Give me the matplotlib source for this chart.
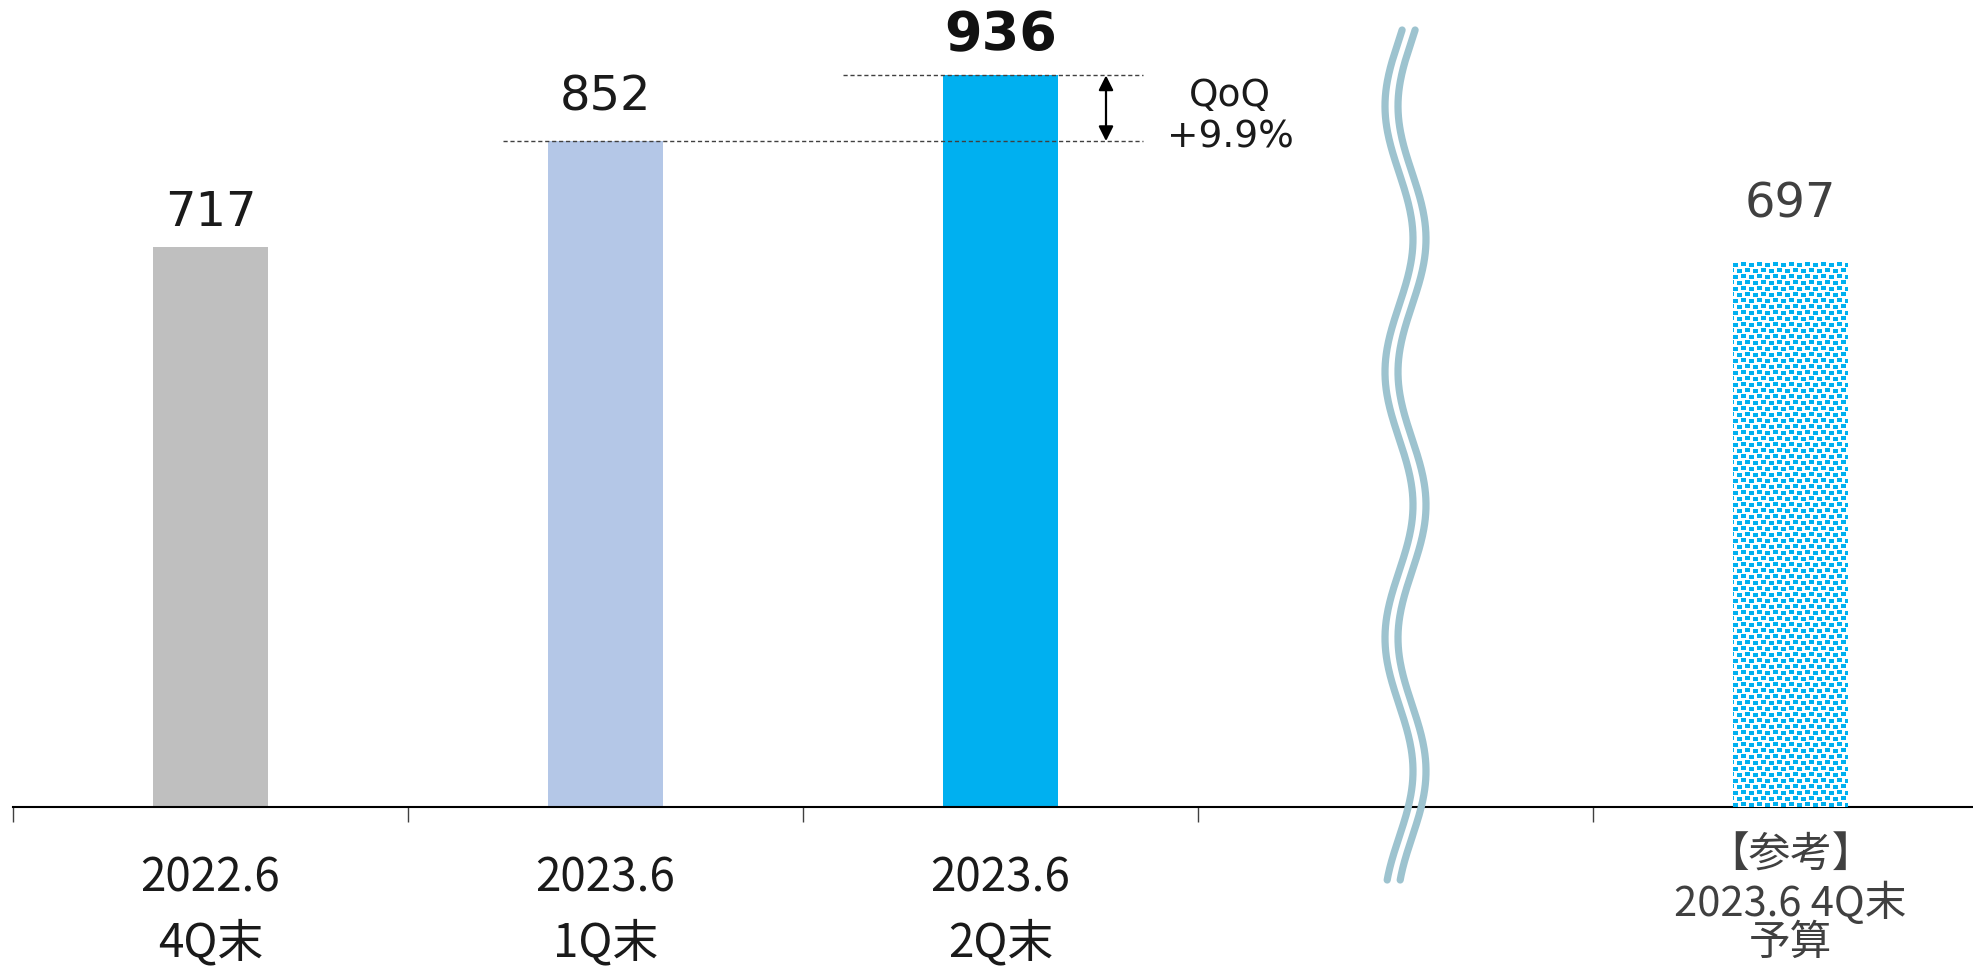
import numpy as np
import matplotlib
matplotlib.use("Agg")
import matplotlib.pyplot as plt
from matplotlib.patches import Rectangle

# ---- data ----
categories = ["2022.6\n4Q末", "2023.6\n1Q末", "2023.6\n2Q末", "", "【参考】\n2023.6 4Q末\n予算"]
values = [717, 852, 936, None, 697]
value_labels = ["717", "852", "936", "", "697"]
qoq_label = "QoQ\n+9.9%"

# ---- styles ----
bar_colors = ["#bfbfbf", "#b4c7e7", "#00b0f0", None, "pattern"]
label_colors = ["#1a1a1a", "#1a1a1a", "#111111", None, "#404040"]
label_offsets_pt = [14.8, 22.0, 18.0, None, 32.0]  # baseline above bar top
W, H = 1973, 969
DPI = 100
fig = plt.figure(figsize=(W / DPI, H / DPI), dpi=DPI)

left_px, base_px = 13, 807
ax = fig.add_axes([left_px / W, (H - base_px) / H, (W - left_px) / W, base_px / H])
px_per_unit = 0.7816
ax.set_ylim(0, base_px / px_per_unit)
step = 395
ax.set_xlim(-0.5, -0.5 + (W - left_px) / step)
for s in ["top", "right", "left"]:
    ax.spines[s].set_visible(False)
ax.spines["bottom"].set_linewidth(1.5)
ax.spines["bottom"].set_color("black")
ax.set_yticks([])
ax.set_xticks(np.arange(len(categories)) - 0.5)
ax.set_xticklabels([])
ax.tick_params(axis="x", direction="out", length=10.8, width=1.0, color="#404040")

bw = 115 / step
cjk = ["Noto Sans CJK JP", "DejaVu Sans"]

for i, v in enumerate(values):
    if v is None:
        continue
    if bar_colors[i] == "pattern":
        rect = Rectangle((i - bw / 2, 0), bw, v, facecolor="white", edgecolor="none", zorder=2)
        ax.add_patch(rect)
        hpx = int(round(v * px_per_unit))
        wpx = 115
        img = np.ones((hpx, wpx, 4))
        blue = np.array([0 / 255, 176 / 255, 240 / 255, 1.0])
        for r, y0 in enumerate(range(0, hpx, 6)):
            off = 4 if r % 2 else 0
            for k, x0 in enumerate(range(off - 8, wpx, 8)):
                ya = y0 + (k % 2)
                xa, xb = max(x0, 0), min(x0 + 5, wpx)
                if xb > xa:
                    img[ya:ya + 4, xa:xb] = blue
        im = ax.imshow(img, extent=(i - bw / 2, i + bw / 2, 0, v), origin="upper",
                       interpolation="nearest", aspect="auto", zorder=3)
        im.set_clip_path(rect)
    else:
        ax.bar(i, v, width=bw, color=bar_colors[i], zorder=2)
    bold = (i == 2)
    ax.annotate(value_labels[i], (i, v), xytext=(0, label_offsets_pt[i]), textcoords="offset points",
                ha="center", va="baseline", fontsize=39 if bold else 34.5,
                fontweight="bold" if bold else "normal", color=label_colors[i],
                family="DejaVu Sans")

ax.set_xlim(-0.5, -0.5 + (W - left_px) / step)

# x labels
def px2x(px):
    return (px - left_px) / step - 0.5

def py2y(py):
    return (base_px - py) / px_per_unit

for i, lab in enumerate(categories):
    if not lab:
        continue
    lines = lab.split("\n")
    if len(lines) == 2:
        ys = [892, 956]
        col = "#1a1a1a"
        fs = 33
    else:
        ys = [868, 916, 955]
        col = "#404040"
        fs = 30
    for ln, yy in zip(lines, ys):
        ax.text(i, py2y(yy), ln, ha="center", va="baseline", fontsize=fs,
                color=col, family=cjk, clip_on=False)

# QoQ annotation
ax.hlines(values[2], px2x(843), px2x(1143), colors="#404040", linestyles=(0, (3, 2)), lw=1.0, zorder=4)
ax.hlines(values[1], px2x(503), px2x(1143), colors="#404040", linestyles=(0, (3, 2)), lw=1.0, zorder=4)
ax.annotate("", xy=(px2x(1106), values[2]), xytext=(px2x(1106), values[1]),
            arrowprops=dict(arrowstyle="<|-|>", color="black", lw=1.6,
                            mutation_scale=22, shrinkA=0, shrinkB=0))
q1, q2 = qoq_label.split("\n")
ax.text(px2x(1230), py2y(106), q1, ha="center", va="baseline", fontsize=27, family="DejaVu Sans", color="#1a1a1a")
ax.text(px2x(1230), py2y(147), q2, ha="center", va="baseline", fontsize=27, family="DejaVu Sans", color="#1a1a1a")

# break symbol (wavy double line)
yy = np.linspace(30, 880, 500)
for cx in (1399, 1412):
    xx = cx - 14 * np.cos(2 * np.pi * (yy - 106) / 266)
    fig.add_artist(plt.Line2D(xx / W, 1 - yy / H, color="#9dc3cf", lw=5.2,
                              solid_capstyle="round", zorder=10))

fig.savefig("out.png", dpi=DPI, facecolor="white")
